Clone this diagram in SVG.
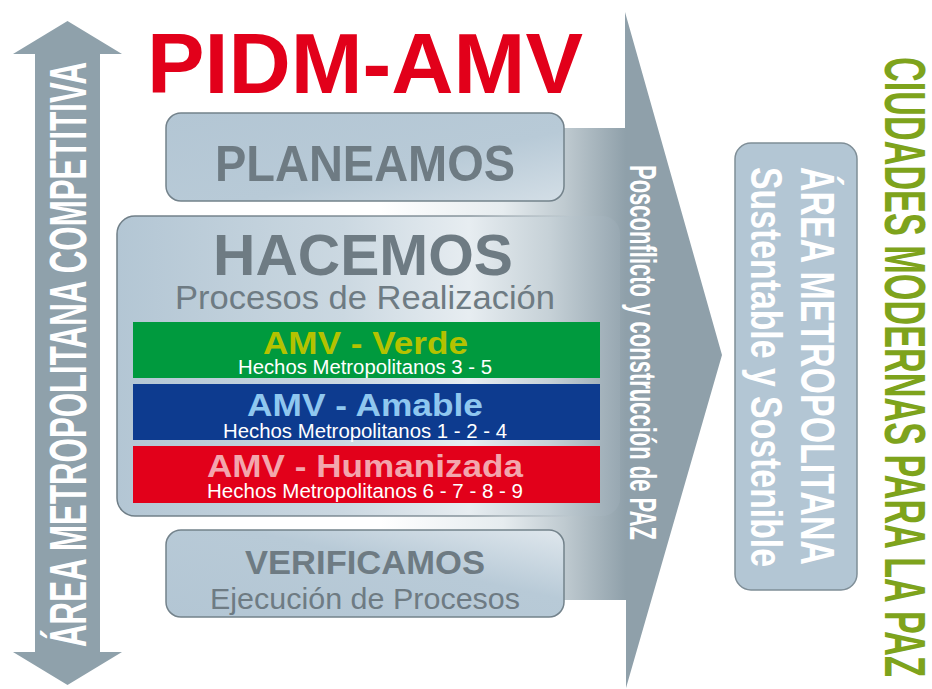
<svg xmlns="http://www.w3.org/2000/svg" width="932" height="689" viewBox="0 0 932 689">
<defs>
<style>
.b{font-family:"Liberation Sans",Arial,sans-serif;font-weight:bold}
.r{font-family:"Liberation Sans",Arial,sans-serif;font-weight:normal}
.gray{fill:#6e7b83}
.box{stroke:#73828b;stroke-width:1.5}
.sub{fill:#ffffff;font-size:19.5px}
.band-t{font-size:32px}
</style>
<linearGradient id="shaft" gradientUnits="userSpaceOnUse" x1="380" y1="0" x2="626" y2="0">
<stop offset="0" stop-color="#ffffff"/>
<stop offset="0.5" stop-color="#e6ecef"/>
<stop offset="0.75" stop-color="#bfcad0"/>
<stop offset="1" stop-color="#8fa0aa"/>
</linearGradient>
<linearGradient id="hacFill" gradientUnits="userSpaceOnUse" x1="117" y1="0" x2="620" y2="0">
<stop offset="0" stop-color="#b3c6d4"/>
<stop offset="0.45" stop-color="#cbd8e1"/>
<stop offset="0.7" stop-color="#e7edf1"/>
<stop offset="0.86" stop-color="#c6d1d7"/>
<stop offset="1" stop-color="#98a8b2"/>
</linearGradient>
<linearGradient id="hacStroke" gradientUnits="userSpaceOnUse" x1="117" y1="0" x2="620" y2="0">
<stop offset="0" stop-color="#6f7e87" stop-opacity="1"/>
<stop offset="0.7" stop-color="#6f7e87" stop-opacity="0.8"/>
<stop offset="0.9" stop-color="#6f7e87" stop-opacity="0"/>
</linearGradient>
<linearGradient id="planFill" gradientUnits="objectBoundingBox" x1="0" y1="0" x2="1" y2="1">
<stop offset="0" stop-color="#b3c6d4"/>
<stop offset="0.6" stop-color="#b8cad7"/>
<stop offset="1" stop-color="#d3dee6"/>
</linearGradient>
<linearGradient id="verFill" gradientUnits="objectBoundingBox" x1="0" y1="1" x2="1" y2="0">
<stop offset="0" stop-color="#b3c6d4"/>
<stop offset="0.6" stop-color="#b8cad7"/>
<stop offset="1" stop-color="#dfe7ed"/>
</linearGradient>
</defs>

<g id="connectors">
  <g id="main-arrow">
    <path d="M380 128 H625 V12 L722 355 L626 688 V600 H380 Z" fill="url(#shaft)"/>
    <text class="b" transform="translate(630,165) rotate(90)" font-size="36" fill="#ffffff" textLength="375" lengthAdjust="spacingAndGlyphs">Posconflicto y construcción de PAZ</text>
  </g>
  <g id="left-arrow">
    <path d="M67.5 21 L122 54 H100 V652 H122 L67.5 685 L13 652 H35 V54 H13 Z" fill="#8fa1ab"/>
    <text class="b" transform="translate(86,647) rotate(-90)" font-size="52" fill="#ffffff" textLength="585" lengthAdjust="spacingAndGlyphs">ÁREA METROPOLITANA COMPETITIVA</text>
  </g>
</g>

<g id="title">
  <text class="b" x="147" y="93" font-size="85" fill="#e2001a" textLength="436" lengthAdjust="spacingAndGlyphs">PIDM-AMV</text>
</g>

<g id="planeamos">
  <rect class="box" x="166" y="113" width="398" height="88" rx="15" fill="url(#planFill)"/>
  <text class="b gray" x="365" y="181" font-size="50" text-anchor="middle" textLength="300" lengthAdjust="spacingAndGlyphs">PLANEAMOS</text>
</g>

<g id="hacemos">
  <rect x="117" y="216" width="503" height="300" rx="18" fill="url(#hacFill)" stroke="url(#hacStroke)" stroke-width="1.5"/>
  <text class="b gray" x="363" y="275" font-size="58" text-anchor="middle" textLength="300" lengthAdjust="spacingAndGlyphs">HACEMOS</text>
  <text class="r gray" x="365" y="309" font-size="33" text-anchor="middle" textLength="380" lengthAdjust="spacingAndGlyphs">Procesos de Realización</text>
  <g id="amv-verde">
    <rect x="133" y="322" width="467" height="56" fill="#009a3e"/>
    <text class="b band-t" x="365.5" y="354" fill="#b4c200" text-anchor="middle" textLength="205" lengthAdjust="spacingAndGlyphs">AMV - Verde</text>
    <text class="r sub" x="365" y="374" text-anchor="middle" textLength="254" lengthAdjust="spacingAndGlyphs">Hechos Metropolitanos 3 - 5</text>
  </g>
  <g id="amv-amable">
    <rect x="133" y="384" width="467" height="56" fill="#0d3b8f"/>
    <text class="b band-t" x="365" y="416" fill="#8fc7ef" text-anchor="middle" textLength="236" lengthAdjust="spacingAndGlyphs">AMV - Amable</text>
    <text class="r sub" x="365" y="438" text-anchor="middle" textLength="284" lengthAdjust="spacingAndGlyphs">Hechos Metropolitanos 1 - 2 - 4</text>
  </g>
  <g id="amv-humanizada">
    <rect x="133" y="446" width="467" height="57" fill="#e2001a"/>
    <text class="b band-t" x="365" y="477" fill="#f3a6ad" text-anchor="middle" textLength="316" lengthAdjust="spacingAndGlyphs">AMV - Humanizada</text>
    <text class="r sub" x="365" y="498" text-anchor="middle" textLength="316" lengthAdjust="spacingAndGlyphs">Hechos Metropolitanos 6 - 7 - 8 - 9</text>
  </g>
</g>

<g id="verificamos">
  <rect class="box" x="166" y="530" width="398" height="87" rx="15" fill="url(#verFill)"/>
  <text class="b gray" x="365" y="574" font-size="33" text-anchor="middle" textLength="240" lengthAdjust="spacingAndGlyphs">VERIFICAMOS</text>
  <text class="r gray" x="365" y="609" font-size="30" text-anchor="middle" textLength="310" lengthAdjust="spacingAndGlyphs">Ejecución de Procesos</text>
</g>

<g id="area-sustentable">
  <rect x="735" y="143" width="122" height="447" rx="16" fill="#b3c6d4" stroke="#7f8e97" stroke-width="1.5"/>
  <text class="b" transform="translate(801,167) rotate(90)" font-size="48" fill="#ffffff" textLength="398" lengthAdjust="spacingAndGlyphs">ÁREA METROPOLITANA</text>
  <text class="b" transform="translate(751,167) rotate(90)" font-size="44" fill="#ffffff" textLength="400" lengthAdjust="spacingAndGlyphs">Sustentable y Sostenible</text>
</g>

<g id="ciudades">
  <text class="b" transform="translate(885,57) rotate(90)" font-size="58" fill="#7ea31c" textLength="620" lengthAdjust="spacingAndGlyphs">CIUDADES MODERNAS PARA LA PAZ</text>
</g>
</svg>
